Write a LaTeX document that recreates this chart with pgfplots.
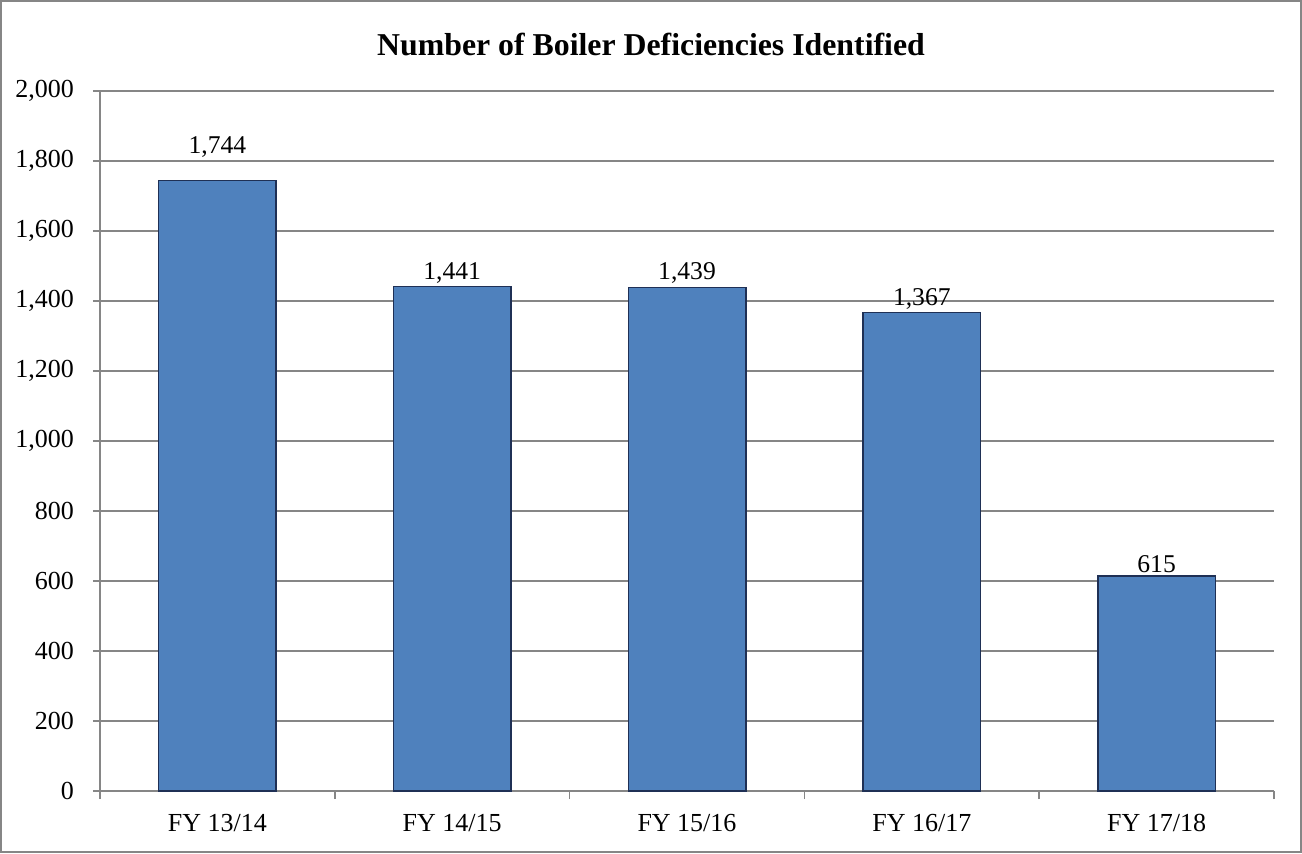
\documentclass[border=0pt]{standalone}
\usepackage{pgfplots}
\pgfplotsset{compat=1.18}
\usepackage{pgfplotstable}
\usepackage{fontspec}
\setmainfont{Liberation Serif}
\definecolor{barblue}{HTML}{4F81BD}
\definecolor{baredge}{HTML}{1F3055}
\definecolor{gridgray}{HTML}{868686}
\pgfplotstableread{
x y off
0 1744 10
1 1441 0
2 1439 0
3 1367 0
4 615 0
}\datatable
\begin{document}
\begin{tikzpicture}[x=1pt,y=1pt]
\useasboundingbox (0,0) rectangle (651,426.5);
\draw[gridgray, line width=0.8pt] (0.6,0.6) rectangle (650.4,425.9);
\node[font=\fontsize{15.9}{18}\selectfont\bfseries] at (325.5,404) {Number of Boiler Deficiencies Identified};
\begin{axis}[
  at={(50pt,31pt)}, anchor=south west,
  scale only axis, width=587pt, height=350pt,
  xmin=-0.5, xmax=4.5, ymin=0, ymax=2000,
  ytick={0,200,...,2000},
  xtick={0,1,2,3,4},
  xticklabels={FY 13/14,FY 14/15,FY 15/16,FY 16/17,FY 17/18},
  minor xtick={-0.5,0.5,1.5,2.5,3.5,4.5},
  axis x line*=bottom, axis y line*=left,
  axis line style={gridgray, line width=0.75pt, -},
  ymajorgrids, grid style={gridgray, line width=0.75pt},
  tick align=outside,
  major tick length=3.5pt, minor tick length=4pt,
  major x tick style={draw=none},
  y tick style={gridgray, line width=0.75pt},
  minor x tick style={gridgray, line width=0.75pt},
  tick label style={font=\fontsize{13}{15}\selectfont},
  yticklabel style={/pgf/number format/fixed, xshift=-6pt},
  xticklabel style={yshift=-4.5pt},
  /pgf/number format/assume math mode=true,
  /pgf/number format/1000 sep={,},
  ybar, bar width=0.5,
  nodes near coords,
  visualization depends on={\thisrow{off} \as \off},
  nodes near coords style={font=\fontsize{12.8}{14}\selectfont, yshift=\off pt-2pt},
]
\addplot[fill=barblue, draw=baredge, line width=0.8pt] table[x=x,y=y] {\datatable};
\end{axis}
\end{tikzpicture}
\end{document}
